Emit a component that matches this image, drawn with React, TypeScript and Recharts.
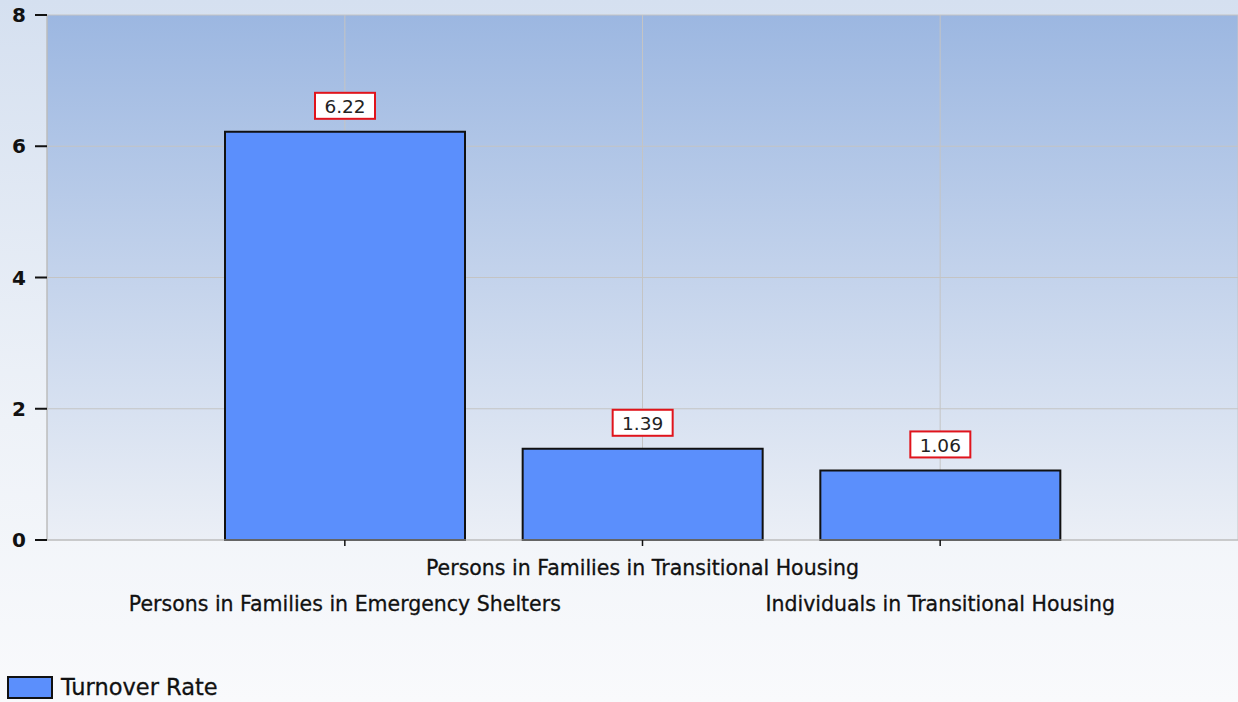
import React from "react";
import {
  BarChart,
  Bar,
  XAxis,
  YAxis,
  CartesianGrid,
  LabelList,
  Legend,
} from "recharts";

const categories = [
  "Persons in Families in Emergency Shelters",
  "Persons in Families in Transitional Housing",
  "Individuals in Transitional Housing",
];
const turnoverRate = [6.22, 1.39, 1.06];
const yTicks = [0, 2, 4, 6, 8];
const seriesName = "Turnover Rate";

const data = categories.map((name, i) => ({ name, rate: turnoverRate[i] }));

const FONT = "'DejaVu Sans', Verdana, sans-serif";

const CategoryTick = (props: any) => {
  const { x, y, payload } = props;
  const idx = props.index ?? payload.index;
  // middle label sits on the first row, the others on the second
  const dy = idx % 2 === 1 ? 20 : 56;
  return (
    <text
      x={x}
      y={y + dy}
      textAnchor="middle"
      dominantBaseline="central"
      fontFamily={FONT}
      fontSize={20.5}
      fill="#111"
      stroke="#111"
      strokeWidth={0.3}
    >
      {payload.value}
    </text>
  );
};

const ValueBox = (props: any) => {
  const { x, y, width, value } = props;
  const cx = x + width / 2;
  const w = 60;
  const h = 26;
  const bottom = y - 13;
  return (
    <g>
      <rect
        x={cx - w / 2}
        y={bottom - h}
        width={w}
        height={h}
        fill="#ffffff"
        stroke="#e0141c"
        strokeWidth={2}
      />
      <text
        x={cx}
        y={bottom - h / 2 + 1}
        textAnchor="middle"
        dominantBaseline="central"
        fontFamily={FONT}
        fontSize={18.5}
        fill="#222"
      >
        {Number(value).toFixed(2)}
      </text>
    </g>
  );
};

const LegendContent = () => (
  <div style={{ display: "flex", alignItems: "center", fontFamily: FONT }}>
    <div
      style={{
        width: 42,
        height: 19,
        background: "#5b8ffc",
        border: "2px solid #111",
        marginRight: 8,
      }}
    />
    <span style={{ fontSize: 22.5, color: "#111", WebkitTextStroke: "0.3px #111" }}>
      {seriesName}
    </span>
  </div>
);

export default function App() {
  return (
    <div
      style={{
        position: "fixed",
        left: 0,
        top: 0,
        width: 1238,
        height: 702,
        background: "linear-gradient(to bottom, #d5e0f0 0%, #eef2f8 60%, #f9fafc 100%)",
      }}
    >
      <svg width={0} height={0} style={{ position: "absolute" }}>
        <defs>
          <linearGradient id="plotGrad" x1="0" y1="0" x2="0" y2="1">
            <stop offset="0%" stopColor="#9cb7e1" />
            <stop offset="100%" stopColor="#ebeff6" />
          </linearGradient>
        </defs>
      </svg>
      <BarChart
        width={1238}
        height={702}
        data={data}
        margin={{ top: 15, right: 0, left: 0, bottom: 0 }}
      >
        <CartesianGrid stroke="#c4c4c4" fill="url(#plotGrad)" fillOpacity={1} />
        <XAxis
          dataKey="name"
          height={162}
          padding={{ left: 149, right: 149 }}
          axisLine={{ stroke: "#b8b8b8" }}
          tickLine={{ stroke: "#111", strokeWidth: 1.5 }}
          tickSize={6}
          tick={<CategoryTick />}
          interval={0}
        />
        <YAxis
          width={47}
          domain={[0, 8]}
          ticks={yTicks}
          axisLine={{ stroke: "#b8b8b8" }}
          tickLine={{ stroke: "#111", strokeWidth: 2 }}
          tickSize={12}
          tickMargin={9}
          tick={{ fontFamily: FONT, fontSize: 20, fontWeight: "bold", fill: "#111" }}
        />
        <Legend
          verticalAlign="middle"
          layout="horizontal"
          content={<LegendContent />}
          wrapperStyle={{ position: "absolute", left: 7, top: 674, width: 300 }}
        />
        <Bar
          dataKey="rate"
          name={seriesName}
          fill="#5b8ffc"
          stroke="#111"
          strokeWidth={2}
          barSize={240}
          isAnimationActive={false}
        >
          <LabelList dataKey="rate" content={<ValueBox />} />
        </Bar>
      </BarChart>
    </div>
  );
}
